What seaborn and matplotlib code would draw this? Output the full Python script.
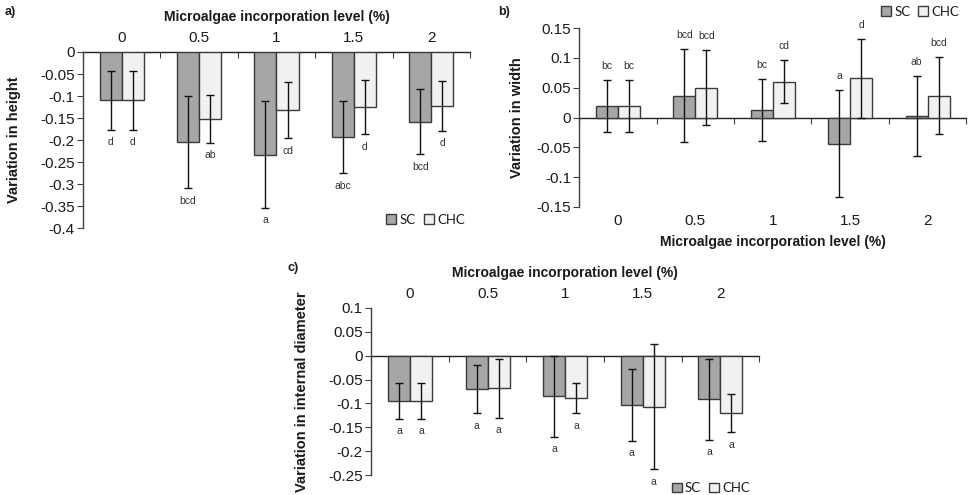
import numpy as np
import pandas as pd
import matplotlib
matplotlib.use("Agg")
import matplotlib.pyplot as plt
import seaborn as sns
from matplotlib.ticker import FuncFormatter, MultipleLocator

# ---------------- data ----------------
levels = ["0", "0.5", "1", "1.5", "2"]
groups = ["SC", "CHC"]

height_sc = [-0.110, -0.205, -0.233, -0.193, -0.158]
height_chc = [-0.110, -0.152, -0.132, -0.125, -0.122]
height_sc_err = [0.067, 0.104, 0.121, 0.082, 0.074]
height_chc_err = [0.067, 0.054, 0.064, 0.062, 0.057]
height_sc_let = ["d", "bcd", "a", "abc", "bcd"]
height_chc_let = ["d", "ab", "cd", "d", "d"]

width_sc = [0.019, 0.037, 0.013, -0.044, 0.003]
width_chc = [0.019, 0.050, 0.060, 0.066, 0.037]
width_sc_err = [0.044, 0.078, 0.052, 0.090, 0.067]
width_chc_err = [0.044, 0.063, 0.036, 0.066, 0.065]
width_sc_let = ["bc", "bcd", "bc", "a", "ab"]
width_chc_let = ["bc", "bcd", "cd", "d", "bcd"]

diam_sc = [-0.095, -0.070, -0.085, -0.103, -0.091]
diam_chc = [-0.095, -0.068, -0.089, -0.107, -0.120]
diam_sc_err = [0.037, 0.050, 0.085, 0.075, 0.085]
diam_chc_err = [0.037, 0.062, 0.031, 0.131, 0.040]
diam_sc_let = ["a", "a", "a", "a", "a"]
diam_chc_let = ["a", "a", "a", "a", "a"]

xlabel_text = "Microalgae incorporation level (%)"

# ---------------- style ----------------
sns.set_theme(style="white")
plt.rcParams["font.family"] = ["Liberation Sans", "DejaVu Sans"]
TXT = "#1a1a1a"
AX = "#404040"
palette = {"SC": "#a6a6a6", "CHC": "#f1f1f1"}

fig = plt.figure(figsize=(9.77, 4.95), dpi=100)
fig.patch.set_facecolor("white")


def fmt(v, pos):
    if abs(v) < 1e-9:
        return "0"
    return f"{v:g}"


def panel(ax, sc, chc, sc_err, chc_err, sc_let, chc_let, ylim, ystep,
          ylabel, ylabelpad, labels_top, letters_above, legend_kw):
    df = pd.DataFrame({
        "level": levels * 2,
        "group": ["SC"] * len(levels) + ["CHC"] * len(levels),
        "value": list(sc) + list(chc),
    })
    sns.barplot(data=df, x="level", y="value", hue="group", order=levels,
                hue_order=groups, palette=palette, edgecolor="#3a3a3a",
                linewidth=1.0, width=0.57, errorbar=None, ax=ax)
    errs = [sc_err, chc_err]
    lets = [sc_let, chc_let]
    vals = [sc, chc]
    for k, cont in enumerate(ax.containers[:2]):
        xs = [b.get_x() + b.get_width() / 2 for b in cont]
        ax.errorbar(xs, vals[k], yerr=errs[k], fmt="none", ecolor="#111111",
                    elinewidth=1.0, capsize=3, capthick=1.0, zorder=5)
        for x, v, e, t in zip(xs, vals[k], errs[k], lets[k]):
            if letters_above:
                ax.annotate(t, (x, v + e), xytext=(0, 10), textcoords="offset points",
                            ha="center", va="center", fontsize=7.5, color="#333333")
            else:
                ax.annotate(t, (x, v - e), xytext=(0, -9), textcoords="offset points",
                            ha="center", va="center", fontsize=7.5, color="#333333")
    ax.set_ylim(*ylim)
    ax.set_xlim(-0.5, len(levels) - 0.5)
    ax.yaxis.set_major_locator(MultipleLocator(ystep))
    ax.yaxis.set_major_formatter(FuncFormatter(fmt))
    ax.tick_params(axis="y", which="major", left=True, direction="out", length=4,
                   width=0.8, color=AX, labelsize=11, labelcolor=TXT, pad=2)
    ax.set_ylabel(ylabel, fontsize=10.5, fontweight="bold", color=TXT, labelpad=ylabelpad)
    for s in ["top", "bottom", "right"]:
        ax.spines[s].set_visible(False)
    ax.spines["left"].set_color(AX)
    ax.spines["left"].set_linewidth(1.0)
    # category labels
    ax.tick_params(axis="x", length=0, labelsize=11, labelcolor=TXT)
    if labels_top:
        ax.xaxis.tick_top()
        ax.xaxis.set_label_position("top")
        ax.tick_params(axis="x", pad=5)
        ax.set_xlabel(xlabel_text, fontsize=10, fontweight="bold", color=TXT, labelpad=7)
    else:
        ax.tick_params(axis="x", pad=5)
        ax.set_xlabel(xlabel_text, fontsize=10, fontweight="bold", color=TXT, labelpad=5)
    # zero line with boundary ticks
    frac = (0 - ylim[0]) / (ylim[1] - ylim[0])
    sec = ax.secondary_xaxis(frac)
    sec.set_alignment("bottom")
    sec.set_xticks(np.arange(len(levels) + 1) - 0.5)
    sec.tick_params(axis="x", direction="out", length=4, width=0.8, color=AX,
                    labelbottom=False, labeltop=False)
    sec.spines["bottom"].set_color("#222222")
    sec.spines["bottom"].set_linewidth(1.0)
    for s in ["top", "left", "right"]:
        sec.spines[s].set_visible(False)
    # legend
    sns.move_legend(ax, title=None, frameon=False, ncol=2,
                    prop={"family": "Lato", "size": 9.5},
                    handlelength=0.75, handleheight=0.75, handletextpad=0.25,
                    columnspacing=0.6, borderaxespad=0, **legend_kw)
    for t in ax.get_legend().get_texts():
        t.set_color(TXT)


ax_a = fig.add_axes([0.085, 0.539, 0.396, 0.356])
panel(ax_a, height_sc, height_chc, height_sc_err, height_chc_err,
      height_sc_let, height_chc_let, (-0.4, 0), 0.05, "Variation in height", 14,
      True, False, dict(loc="lower right", bbox_to_anchor=(1.0, -0.015)))

ax_b = fig.add_axes([0.593, 0.582, 0.396, 0.361])
panel(ax_b, width_sc, width_chc, width_sc_err, width_chc_err,
      width_sc_let, width_chc_let, (-0.15, 0.15), 0.05, "Variation in width", 9,
      False, True, dict(loc="lower right", bbox_to_anchor=(0.995, 1.03)))

ax_c = fig.add_axes([0.380, 0.040, 0.397, 0.338])
panel(ax_c, diam_sc, diam_chc, diam_sc_err, diam_chc_err,
      diam_sc_let, diam_chc_let, (-0.25, 0.1), 0.05, "Variation in internal diameter", 14,
      True, False, dict(loc="upper right", bbox_to_anchor=(0.99, -0.01)))

fig.text(5 / 977, 1 - 12 / 495, "a)", fontsize=9, fontweight="bold", color=TXT, va="center")
fig.text(498 / 977, 1 - 12 / 495, "b)", fontsize=9, fontweight="bold", color=TXT, va="center")
fig.text(288 / 977, 1 - 268 / 495, "c)", fontsize=9, fontweight="bold", color=TXT, va="center")

fig.savefig("out.png", dpi=100, facecolor="white")
